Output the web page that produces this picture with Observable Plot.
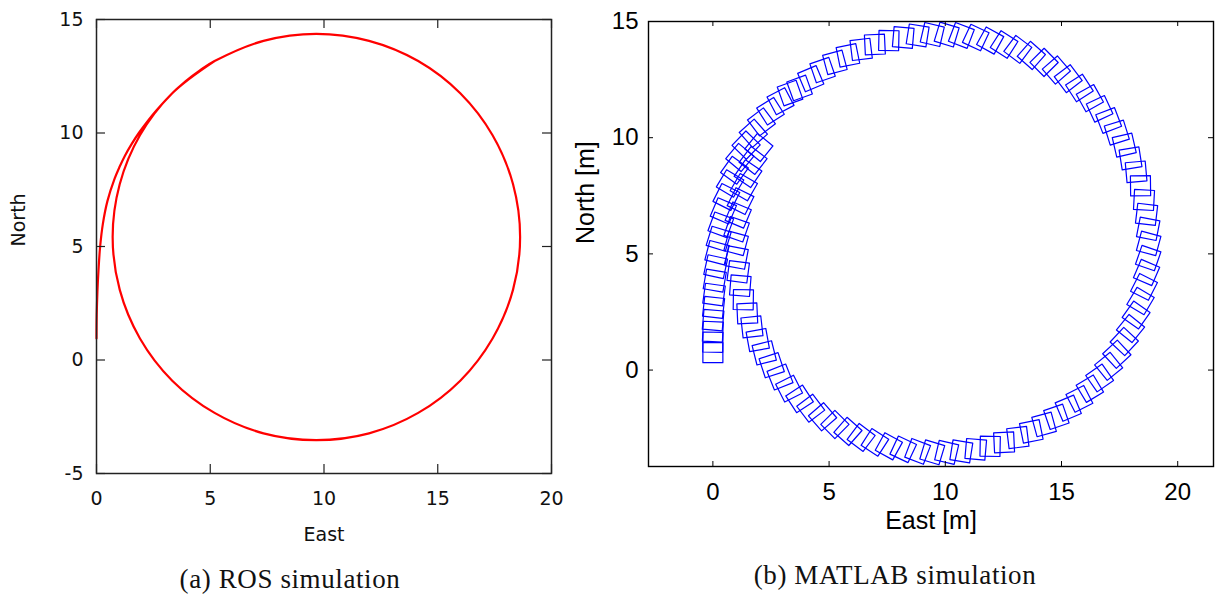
<!DOCTYPE html>
<html><head><meta charset="utf-8">
<script src="https://cdn.jsdelivr.net/npm/d3@7"></script>
<script src="https://cdn.jsdelivr.net/npm/@observablehq/plot@0.6"></script>
<style>
body{margin:0;background:#fff;width:1215px;height:599px;overflow:hidden;position:relative}
#a{position:absolute;left:0;top:0}
#b{position:absolute;left:560px;top:0}
.cap{position:absolute;font-family:"Liberation Serif","Times New Roman",serif;font-size:27px;line-height:27px;letter-spacing:0.6px;transform:translateX(-50%);white-space:nowrap;color:#111}
</style></head><body>
<div id="a"></div><div id="b"></div>
<div class="cap" style="left:290px;top:566px">(a) ROS simulation</div>
<div class="cap" style="left:895px;top:562px">(b) MATLAB simulation</div>
<script>
// ---- (a) ROS simulation: trajectory ----
const rosEast  = [0.00, 0.003, 0.01, 0.04, 0.09, 0.16, 0.28, 0.48, 0.80, 1.01, 1.25, 1.535, 1.86, 2.23, 2.64, 3.33, 3.91, 4.53, 5.19, 7.34, 9.66, 11.98, 14.14, 15.99, 17.41, 18.31, 18.62, 18.31, 17.41, 15.99, 14.14, 11.98, 9.66, 7.34, 5.19, 3.33, 1.91, 1.02, 0.71, 1.02, 1.91, 3.33, 5.19];
const rosNorth = [0.95, 1.50, 2.00, 3.00, 4.00, 5.00, 6.00, 7.00, 8.00, 8.50, 9.00, 9.50, 10.00, 10.50, 11.00, 11.75, 12.28, 12.75, 13.17, 14.06, 14.37, 14.06, 13.17, 11.75, 9.90, 7.74, 5.42, 3.10, 0.95, -0.91, -2.33, -3.23, -3.53, -3.23, -2.33, -0.91, 0.95, 3.10, 5.42, 7.74, 9.90, 11.75, 13.17];
const rosXTicks = [0, 5, 10, 15, 20];
const rosYTicks = [-5, 0, 5, 10, 15];

// ---- (b) MATLAB simulation: vehicle footprint centres ----
const matEast = [
 0.00,0.00,0.00,0.01,0.03,0.05,0.08,0.12,0.18,0.25,0.34,0.45,0.58,0.74,0.93,1.16,1.43,1.74,2.09,2.48,2.91,3.32,
 3.73,4.21,4.72,5.25,5.81,6.38,6.97,7.57,8.19,8.81,9.44,10.06,10.69,11.31,11.93,12.53,13.12,13.70,14.25,14.78,15.29,15.77,16.22,16.64,17.03,17.38,17.70,17.97,18.21,18.40,18.55,18.66,18.73,18.75,18.73,18.66,18.55,18.40,18.21,17.97,17.70,17.38,17.03,16.64,16.22,15.77,15.29,14.78,14.25,13.70,13.12,12.53,11.93,11.31,10.69,10.06,9.44,8.81,8.19,7.57,6.97,6.38,5.81,5.25,4.72,4.21,3.73,3.28,
 2.89,2.53,2.21,1.93,1.68,1.48,1.31,1.18,1.09,1.02,1.00,1.02,1.09,1.19,1.33,1.51,1.73,1.98];
const matNorth = [
 0.75,1.20,1.65,2.15,2.70,3.25,3.85,4.45,5.05,5.65,6.25,6.85,7.45,8.03,8.60,9.15,9.68,10.19,10.68,11.14,11.57,11.92,
 12.14,12.54,12.91,13.24,13.54,13.80,14.01,14.18,14.31,14.40,14.44,14.44,14.40,14.31,14.18,14.01,13.80,13.54,13.24,12.91,12.54,12.14,11.70,11.24,10.74,10.22,9.68,9.11,8.53,7.93,7.32,6.70,6.08,5.45,4.82,4.20,3.58,2.97,2.37,1.79,1.23,0.68,0.16,-0.34,-0.80,-1.24,-1.64,-2.01,-2.34,-2.64,-2.90,-3.11,-3.28,-3.41,-3.50,-3.54,-3.54,-3.50,-3.41,-3.28,-3.11,-2.90,-2.64,-2.34,-2.01,-1.64,-1.24,-0.80,
 -0.30,0.21,0.74,1.29,1.86,2.44,3.03,3.63,4.23,4.84,5.45,6.06,6.67,7.27,7.87,8.45,9.02,9.58];
const matXTicks = [0, 5, 10, 15, 20];
const matYTicks = [0, 5, 10, 15];
const boxSide = 0.86;     // footprint side [m]
const crabDeg = 15;       // nose turned into the curve
const crabRamp = 14;      // samples before the full crab angle is reached

// ---------- Panel (a) ----------
{
  const W = 600, H = 560, ML = 96, MR = 49, MT = 19, MB = 87;
  const iw = W - ML - MR, ih = H - MT - MB;
  const tk = 9, col = "#222";
  const ros = rosEast.map((e, i) => ({east: e, north: rosNorth[i]}));
  const fmt = d => String(d);
  const chart = Plot.plot({
    width: W, height: H, marginLeft: ML, marginRight: MR, marginTop: MT, marginBottom: MB,
    style: {fontFamily: "'DejaVu Sans', sans-serif", fontSize: "19px", color: "#111", background: "transparent"},
    x: {domain: [0, 20]},
    y: {domain: [-5, 15]},
    marks: [
      Plot.line(ros, {x: "east", y: "north", curve: "catmull-rom", stroke: "#ff0000", strokeWidth: 2.2}),
      Plot.tickX(rosXTicks, {x: d => d, insetTop: ih - tk, stroke: col, strokeWidth: 1.2}),
      Plot.tickX(rosXTicks, {x: d => d, insetBottom: ih - tk, stroke: col, strokeWidth: 1.2}),
      Plot.tickY(rosYTicks, {y: d => d, insetRight: iw - tk, stroke: col, strokeWidth: 1.2}),
      Plot.tickY(rosYTicks, {y: d => d, insetLeft: iw - tk, stroke: col, strokeWidth: 1.2}),
      Plot.frame({stroke: col, strokeWidth: 1.5}),
      Plot.axisX(rosXTicks, {tickSize: 0, tickPadding: 18, tickFormat: fmt, label: null}),
      Plot.axisY(rosYTicks, {tickSize: 0, tickPadding: 13, tickFormat: fmt, label: null}),
      Plot.text(["East"], {text: d => d, frameAnchor: "bottom", dy: 67, fill: "#111"}),
      Plot.text(["North"], {text: d => d, frameAnchor: "left", dx: -78, rotate: -90, fill: "#111"})
    ]
  });
  document.getElementById("a").append(chart);
}

// ---------- Panel (b) ----------
{
  const W = 655, H = 560, ML = 88, MR = 2, MT = 21, MB = 94;
  const iw = W - ML - MR, ih = H - MT - MB;
  const tk = 5, col = "#000";
  const half = boxSide / 2;
  const boxes = [];
  const n = matEast.length;
  for (let i = 0; i < n; i++) {
    const p = Math.max(0, i - 1), q = Math.min(n - 1, i + 1);
    const th = Math.atan2(matNorth[q] - matNorth[p], matEast[q] - matEast[p]) - Math.min(1, i / crabRamp) * crabDeg * Math.PI / 180;
    const c = Math.cos(th), s = Math.sin(th);
    [[1,1],[-1,1],[-1,-1],[1,-1],[1,1]].forEach(([u, v]) =>
      boxes.push({id: i, east: matEast[i] + half * (u * c - v * s), north: matNorth[i] + half * (u * s + v * c)}));
  }
  const fmt = d => String(d);
  const chart = Plot.plot({
    width: W, height: H, marginLeft: ML, marginRight: MR, marginTop: MT, marginBottom: MB,
    style: {fontFamily: "'Liberation Sans', Arial, sans-serif", fontSize: "24px", color: "#000", background: "transparent"},
    x: {domain: [-2.77, 21.54]},
    y: {domain: [-4.15, 15]},
    marks: [
      Plot.line(boxes, {x: "east", y: "north", z: "id", stroke: "#0000ff", strokeWidth: 1.2, clip: true}),
      Plot.tickX(matXTicks, {x: d => d, insetTop: ih - tk, stroke: col, strokeWidth: 1}),
      Plot.tickX(matXTicks, {x: d => d, insetBottom: ih - tk, stroke: col, strokeWidth: 1}),
      Plot.tickY(matYTicks, {y: d => d, insetRight: iw - tk, stroke: col, strokeWidth: 1}),
      Plot.tickY(matYTicks, {y: d => d, insetLeft: iw - tk, stroke: col, strokeWidth: 1}),
      Plot.frame({stroke: col, strokeWidth: 1.4}),
      Plot.axisX(matXTicks, {tickSize: 0, tickPadding: 16, tickFormat: fmt, label: null}),
      Plot.axisY(matYTicks, {tickSize: 0, tickPadding: 10, tickFormat: fmt, label: null}),
      Plot.text(["East [m]"], {text: d => d, frameAnchor: "bottom", dy: 62, fontSize: 25, fill: "#000"}),
      Plot.text(["North [m]"], {text: d => d, frameAnchor: "left", dx: -63, rotate: -90, fontSize: 25, fill: "#000"})
    ]
  });
  document.getElementById("b").append(chart);
}
</script>
</body></html>
